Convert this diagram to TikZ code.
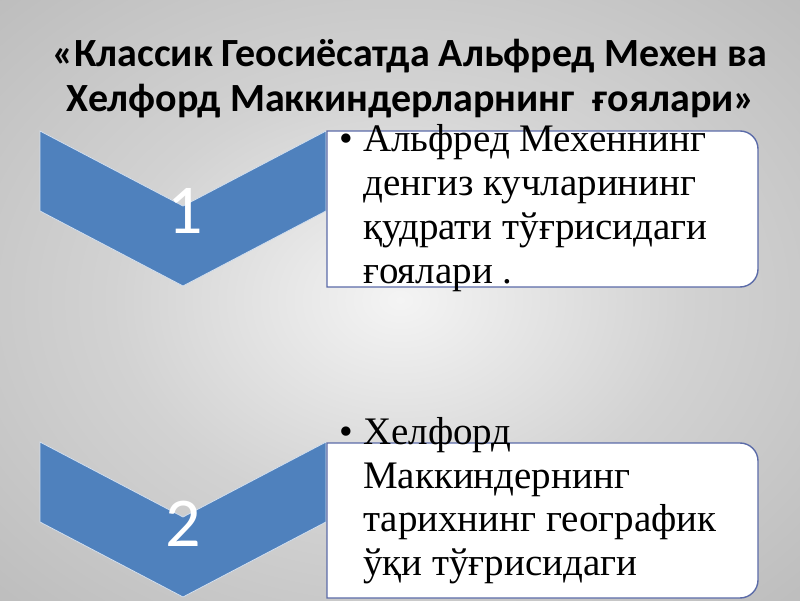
\documentclass[tikz,border=0pt]{standalone}
\usepackage{fontspec}
\setmainfont{Liberation Serif}
\newfontfamily\titlefont{Carlito}
\newfontfamily\numfont{Carlito}
\definecolor{chev}{HTML}{4F81BD}
\definecolor{boxline}{HTML}{5B6BA8}
\definecolor{bgA}{HTML}{F4F4F4}
\definecolor{bgB}{HTML}{D2D2D2}
\definecolor{bgC}{HTML}{B2B2B2}
\definecolor{bgD}{HTML}{A4A4A4}
\pgfdeclareradialshading{bgshade}{\pgfpoint{0bp}{0bp}}{color(0bp)=(bgA); color(18bp)=(bgB); color(45bp)=(bgC); color(72bp)=(bgD)}
\tikzset{
  chevshape/.style={fill=chev, draw=white!75!chev, line width=0.8pt, line join=miter},
  boxshape/.style={fill=white, draw=boxline, line width=1.4pt},
  numtext/.style={text=white, font=\numfont\fontsize{70}{70}\selectfont, inner sep=0pt},
  bodytext/.style={anchor=base west, inner sep=0pt, align=left, font=\fontsize{39}{44}\selectfont},
  titletext/.style={anchor=base, inner sep=0pt, font=\titlefont\bfseries\fontsize{40}{45}\selectfont}
}
\begin{document}
\begin{tikzpicture}[x=1pt,y=1pt]
\useasboundingbox (0,0) rectangle (800,600);
\shade[shading=bgshade, shading angle=0] (0,0) rectangle (800,600);
% title
\node[titletext] (t1) at (410,533) {«Классик Геосиёсатда Альфред Мехен ва};
\node[titletext] (t2) at (411,488) {Хелфорд Маккиндерларнинг\ \ ғоялари»};
% chevron 1
\path[chevshape] (40,469) -- (183,394) -- (326,469) -- (326,389) -- (183,314) -- (40,389) -- cycle;
\node[numtext] (n1) at (185,389) {1};
% box 1
\path[boxshape] (327,469) -- (740,469) arc[start angle=90,end angle=0,radius=18] -- (758,331) arc[start angle=0,end angle=-90,radius=18] -- (327,313) -- cycle;
\node[bodytext] (b1) at (363,316) {\llap{\textbullet\hspace{10pt}}Альфред Мехеннинг\\денгиз кучларининг\\қудрати тўғрисидаги\\ғоялари .};
% chevron 2
\path[chevshape] (40,158) -- (183,83) -- (326,158) -- (326,78) -- (183,3) -- (40,78) -- cycle;
\node[numtext] (n2) at (183,76) {2};
% box 2
\path[boxshape] (327,157) -- (740,157) arc[start angle=90,end angle=0,radius=18] -- (758,20) arc[start angle=0,end angle=-90,radius=18] -- (327,2) -- cycle;
\node[bodytext, font=\fontsize{39}{43.5}\selectfont] (b2) at (363,25) {\llap{\textbullet\hspace{10pt}}Хелфорд\\Маккиндернинг\\тарихнинг географик\\ўқи тўғрисидаги};
\end{tikzpicture}
\end{document}
